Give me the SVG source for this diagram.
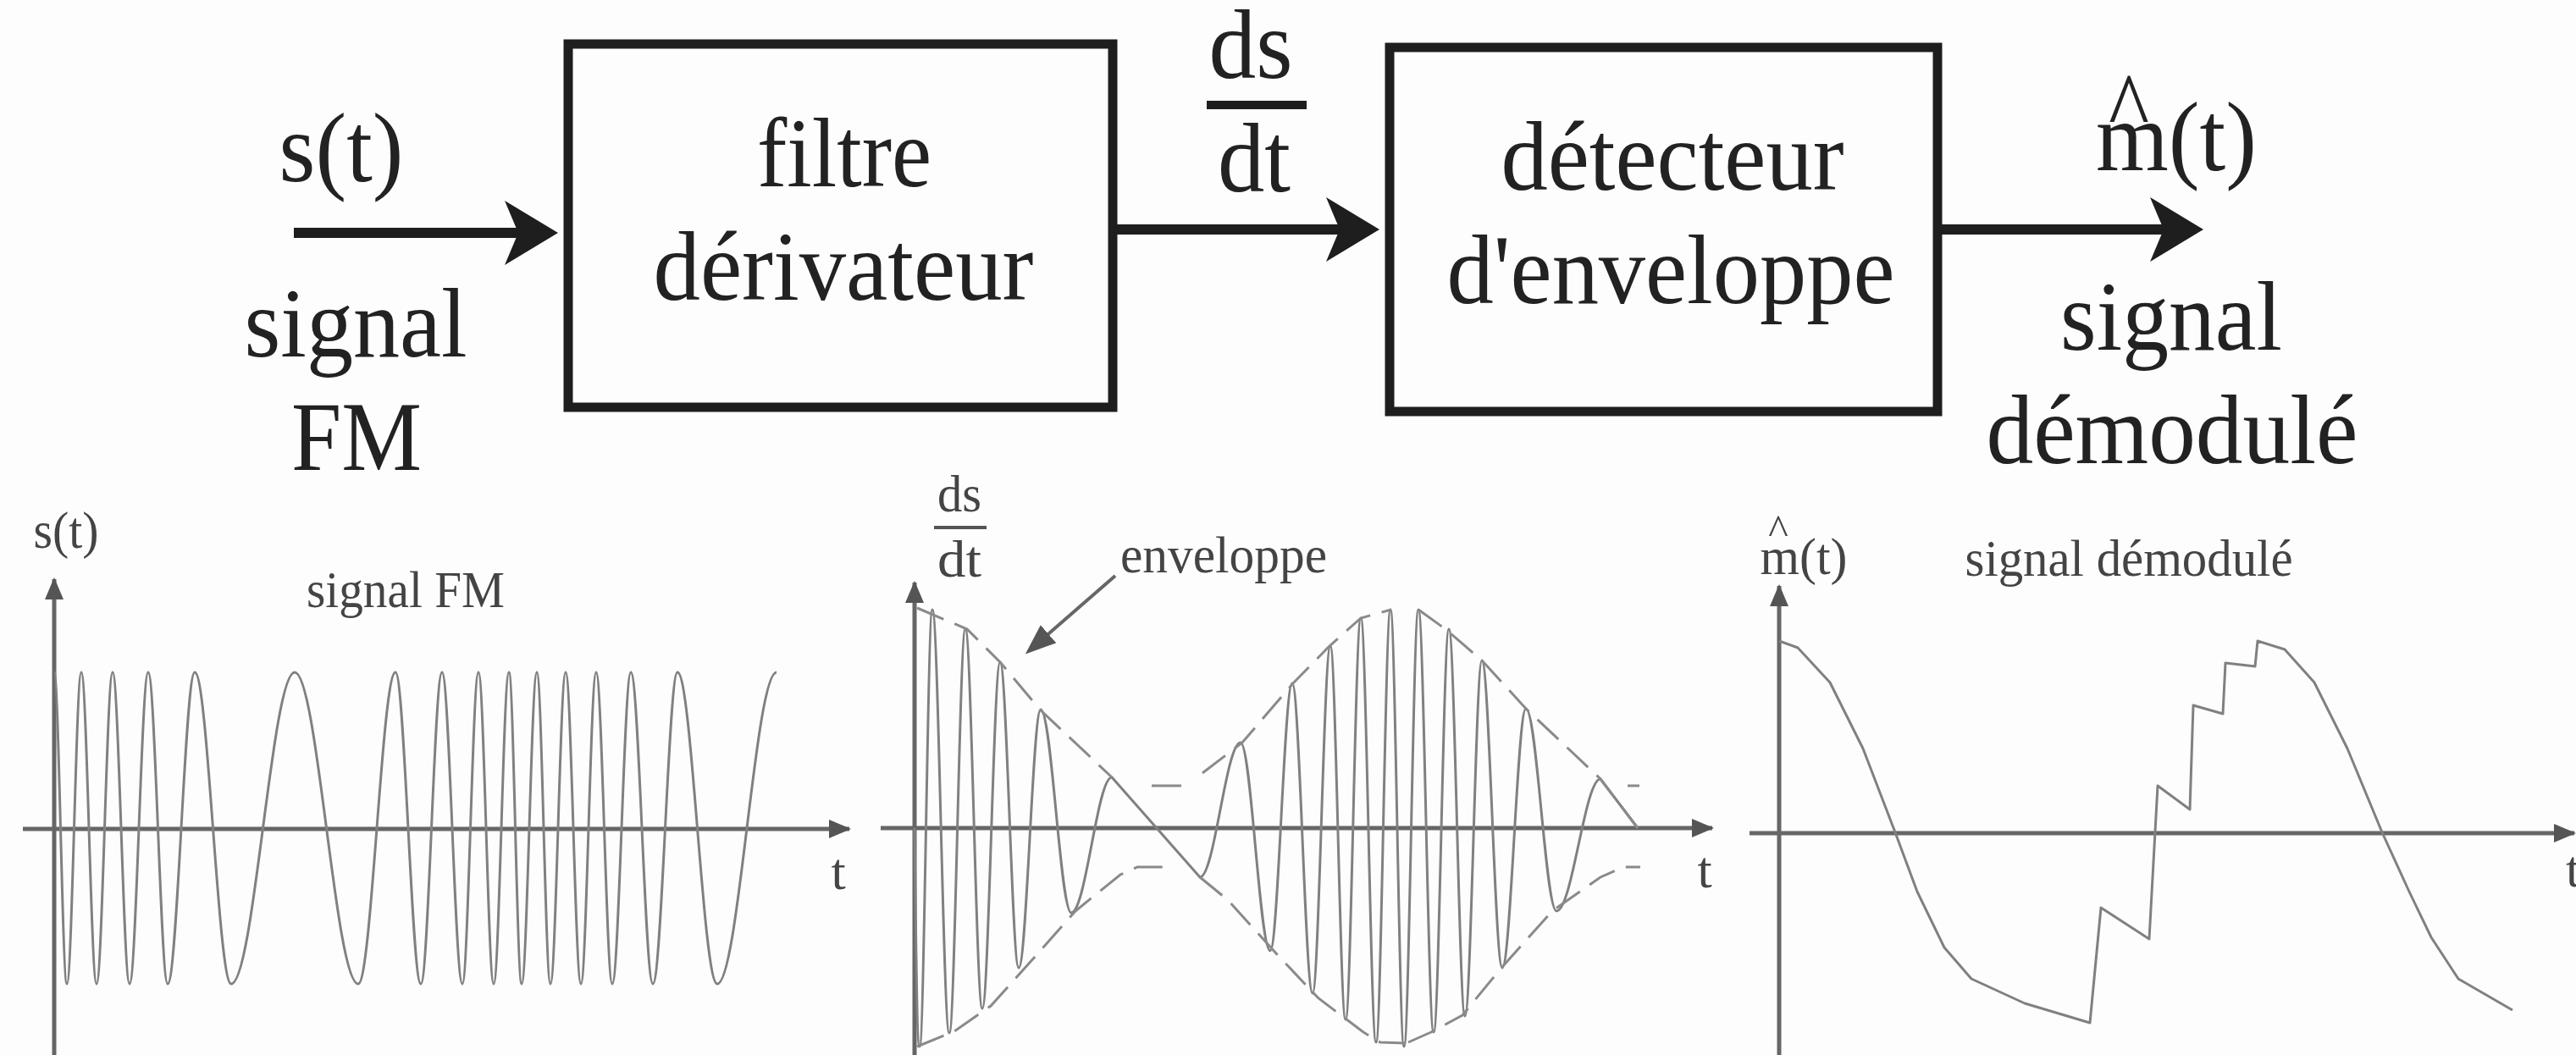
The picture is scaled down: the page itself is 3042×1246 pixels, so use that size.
<svg xmlns="http://www.w3.org/2000/svg" width="3042" height="1246" viewBox="0 0 3042 1246">
<defs>
<style>
.big{font-family:"Liberation Serif","Times New Roman",serif;font-size:116px;fill:#222;text-anchor:middle}
.small{font-family:"Liberation Serif","Times New Roman",serif;font-size:62px;fill:#444;text-anchor:middle}
.box{fill:none;stroke:#1e1e1e;stroke-width:11}
.conn{stroke:#1e1e1e;stroke-width:12;fill:none}
.axis{stroke:#666;stroke-width:5;fill:none}
.sig{stroke:#808080;stroke-width:3;fill:none;stroke-linejoin:round}
.env{stroke:#8a8a8a;stroke-width:3;fill:none;stroke-dasharray:34 14}
.envs{stroke:#8a8a8a;stroke-width:3;fill:none}
</style>
<marker id="bigHead" viewBox="0 0 63 76" refX="16" refY="38" markerWidth="63" markerHeight="76" markerUnits="userSpaceOnUse" orient="auto">
<path d="M0,0 L63,38 L0,76 L16,38 Z" fill="#1e1e1e"/>
</marker>
<marker id="axHead" viewBox="0 0 26 22" refX="24" refY="11" markerWidth="26" markerHeight="22" markerUnits="userSpaceOnUse" orient="auto">
<path d="M0,0 L26,11 L0,22 Z" fill="#555"/>
</marker>
<marker id="envHead" viewBox="0 0 36 28" refX="8" refY="14" markerWidth="36" markerHeight="28" markerUnits="userSpaceOnUse" orient="auto">
<path d="M0,0 L36,14 L0,28 Z" fill="#555"/>
</marker>
</defs>
<rect width="3042" height="1246" fill="#fdfdfd"/>

<!-- Block diagram -->
<g id="input-label">
<text class="big" x="403" y="214" textLength="147" lengthAdjust="spacingAndGlyphs">s(t)</text>
<text class="big" x="420" y="421" textLength="263" lengthAdjust="spacingAndGlyphs">signal</text>
<text class="big" x="421" y="555" textLength="154" lengthAdjust="spacingAndGlyphs">FM</text>
</g>
<g id="node-filtre">
<rect class="box" x="671" y="52" width="643" height="429"/>
<text class="big" x="997" y="220" textLength="206" lengthAdjust="spacingAndGlyphs">filtre</text>
<text class="big" x="996" y="354" textLength="449" lengthAdjust="spacingAndGlyphs">dérivateur</text>
</g>
<g id="label-dsdt">
<text class="big" x="1477" y="92" textLength="99" lengthAdjust="spacingAndGlyphs">ds</text>
<rect x="1425" y="119" width="118" height="10" fill="#1e1e1e"/>
<text class="big" x="1481" y="226" textLength="86" lengthAdjust="spacingAndGlyphs">dt</text>
</g>
<g id="node-detecteur">
<rect class="box" x="1641" y="56" width="647" height="430"/>
<text class="big" x="1975" y="224" textLength="405" lengthAdjust="spacingAndGlyphs">détecteur</text>
<text class="big" x="1973" y="358" textLength="529" lengthAdjust="spacingAndGlyphs">d'enveloppe</text>
</g>
<g id="output-label">
<text class="big" x="2514" y="166" textLength="48" lengthAdjust="spacingAndGlyphs">^</text>
<text class="big" x="2570" y="201" textLength="190" lengthAdjust="spacingAndGlyphs">m(t)</text>
<text class="big" x="2564" y="413" textLength="262" lengthAdjust="spacingAndGlyphs">signal</text>
<text class="big" x="2565" y="547" textLength="439" lengthAdjust="spacingAndGlyphs">démodulé</text>
</g>
<g id="connectors">
<line class="conn" x1="347" y1="275" x2="612" y2="275" marker-end="url(#bigHead)"/>
<line class="conn" x1="1314" y1="271" x2="1582" y2="271" marker-end="url(#bigHead)"/>
<line class="conn" x1="2288" y1="271" x2="2555" y2="271" marker-end="url(#bigHead)"/>
</g>

<!-- Plot 1: FM signal -->
<g id="plot-fm">
<line class="axis" x1="64" y1="1246" x2="64" y2="684" marker-end="url(#axHead)"/>
<line class="axis" x1="27" y1="979" x2="1003" y2="979" marker-end="url(#axHead)"/>
<text class="small" x="78" y="647" textLength="77" lengthAdjust="spacingAndGlyphs">s(t)</text>
<text class="small" x="479" y="717" textLength="234" lengthAdjust="spacingAndGlyphs">signal FM</text>
<text class="small" x="990" y="1050">t</text>
<path class="sig" d="M64,794 C69.4,794 73.6,1162 79,1162 C85.1,1162 89.9,794 96,794 C102.5,794 107.5,1162 114,1162 C120.8,1162 126.2,794 133,794 C140.2,794 145.8,1162 153,1162 C160.9,1162 167.1,794 175,794 C183.3,794 189.7,1162 198,1162 C209.5,1162 218.5,794 230,794 C245.5,794 257.5,1162 273,1162 C300,1162 321,794 348,794 C375,794 396,1162 423,1162 C438.8,1162 451.2,794 467,794 C477.8,794 486.2,1162 497,1162 C506,1162 513,794 522,794 C530.6,794 537.4,1162 546,1162 C552.8,1162 558.2,794 565,794 C571.5,794 576.5,1162 583,1162 C589.5,1162 594.5,794 601,794 C606.4,794 610.6,1162 616,1162 C622.5,1162 627.5,794 634,794 C639.8,794 644.2,1162 650,1162 C656.5,1162 661.5,794 668,794 C674.5,794 679.5,1162 686,1162 C692.5,1162 697.5,794 704,794 C710.8,794 716.2,1162 723,1162 C730.9,1162 737.1,794 745,794 C754.4,794 761.6,1162 771,1162 C781.4,1162 789.6,794 800,794 C816.9,794 830.1,1162 847,1162 C872.2,1162 891.8,794 917,794"/>
</g>

<!-- Plot 2: derivative -->
<g id="plot-derivee">
<line class="axis" x1="1080" y1="1246" x2="1080" y2="688" marker-end="url(#axHead)"/>
<line class="axis" x1="1040" y1="978" x2="2022" y2="978" marker-end="url(#axHead)"/>
<text class="small" x="1133" y="604" textLength="52" lengthAdjust="spacingAndGlyphs">ds</text>
<line x1="1103" y1="623" x2="1165" y2="623" stroke="#555" stroke-width="4"/>
<text class="small" x="1133" y="681" textLength="52" lengthAdjust="spacingAndGlyphs">dt</text>
<text class="small" x="1445" y="676" textLength="244" lengthAdjust="spacingAndGlyphs">enveloppe</text>
<text class="small" x="2013" y="1048">t</text>
<line x1="1317" y1="680" x2="1232" y2="754" stroke="#666" stroke-width="4" marker-end="url(#envHead)"/>
<path class="sig" d="M1080,978 C1082,1150 1083,1236 1086,1236 C1091.4,1236 1095.6,720 1101,720 C1108.2,720 1113.8,1220 1121,1220 C1127.8,1220 1133.2,743 1140,743 C1147.2,743 1152.8,1191 1160,1191 C1167.6,1191 1173.4,782 1181,782 C1188.9,782 1195.1,1143 1203,1143 C1212.4,1143 1219.6,838 1229,838 C1242,838 1252,1078 1265,1078 C1282.3,1078 1295.7,918 1313,918 L1417,1036 C1434.3,1036 1447.7,877 1465,877 C1477.6,877 1487.4,1123 1500,1123 C1509.4,1123 1516.6,807 1526,807 C1534.6,807 1541.4,1173 1550,1173 C1557.6,1173 1563.4,763 1571,763 C1577.5,763 1582.5,1204 1589,1204 C1595.5,1204 1600.5,730 1607,730 C1613.5,730 1618.5,1231 1625,1231 C1631.1,1231 1635.9,720 1642,720 C1647.8,720 1652.2,1236 1658,1236 C1664.1,1236 1668.9,720 1675,720 C1681.5,720 1686.5,1219 1693,1219 C1699.5,1219 1704.5,743 1711,743 C1717.8,743 1723.2,1200 1730,1200 C1737.2,1200 1742.8,780 1750,780 C1758.6,780 1765.4,1143 1774,1143 C1784.1,1143 1791.9,837 1802,837 C1815,837 1825,1076 1838,1076 C1856.7,1076 1871.3,920 1890,920 L1934,978"/>
<path class="env" d="M1083,718 L1142,743 L1182,783 L1228,838 L1313,918"/>
<path class="envs" d="M1360,928 L1395,928 M1922,928 L1936,928"/>
<path class="env" d="M1420,913 L1467,877 L1527,807 L1570,763 L1607,730 L1643,720"/>
<path class="env" d="M1675,720 L1707,743 L1750,780 L1802,837 L1890,920 L1934,978"/>
<path class="env" d="M1083,1236 L1127,1218 L1170,1188 L1223,1129 L1270,1076 L1323,1033 L1343,1024 L1383,1024"/>
<path class="env" d="M1417,1036 L1450,1063 L1507,1126 L1557,1179 L1610,1219 L1630,1231 L1660,1232"/>
<path class="env" d="M1663,1231 L1690,1219 L1727,1199 L1773,1143 L1833,1076 L1890,1036 L1917,1024 L1937,1024"/>
</g>

<!-- Plot 3: demodulated -->
<g id="plot-demodule">
<line class="axis" x1="2101" y1="1246" x2="2101" y2="692" marker-end="url(#axHead)"/>
<line class="axis" x1="2066" y1="984" x2="3040" y2="984" marker-end="url(#axHead)"/>
<text class="small" x="2100" y="643" style="font-size:50px">^</text>
<text class="small" x="2130" y="678" textLength="103" lengthAdjust="spacingAndGlyphs">m(t)</text>
<text class="small" x="2514" y="680" textLength="387" lengthAdjust="spacingAndGlyphs">signal démodulé</text>
<text class="small" x="3030" y="1047" style="text-anchor:start">t</text>
<polyline class="sig" points="2101,757 2123,765 2161,806 2200,884 2238,983 2264,1053 2296,1119 2328,1156 2391,1185 2468,1208 2481,1072 2538,1109 2548,928 2586,956 2590,833 2625,843 2628,783 2663,787 2666,757 2698,767 2733,806 2772,884 2813,983 2845,1053 2871,1107 2903,1156 2967,1193"/>
</g>
</svg>
